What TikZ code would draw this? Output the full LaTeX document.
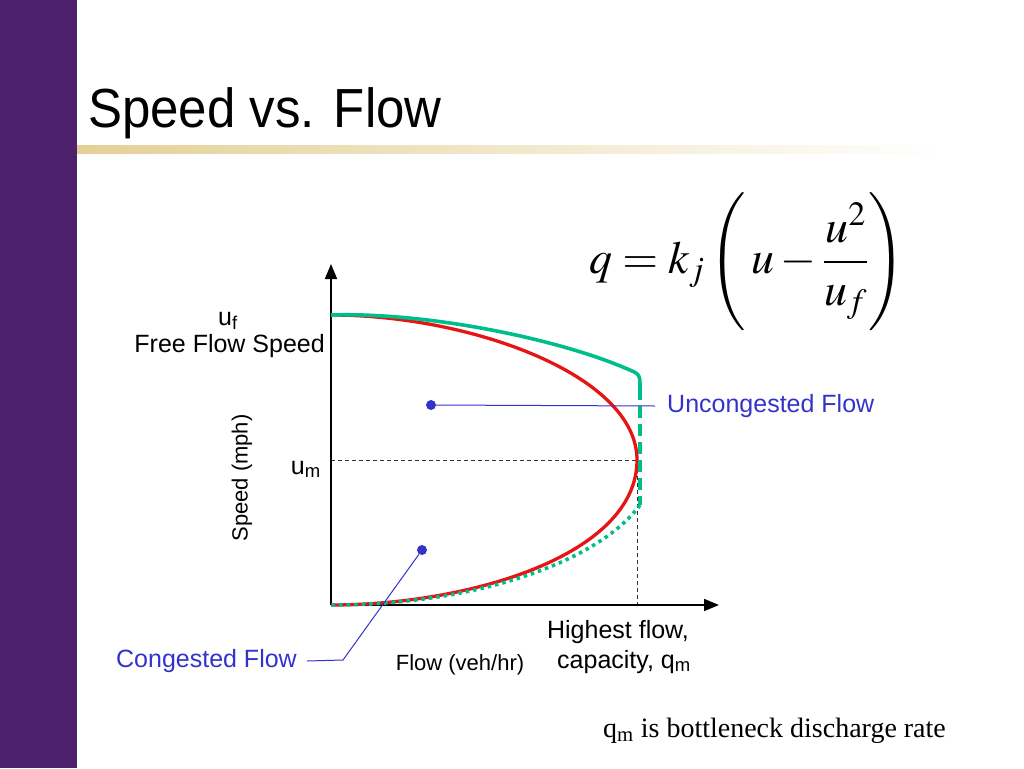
\documentclass[tikz,border=0pt]{standalone}
\usepackage{mathptmx}
\usepackage[no-math]{fontspec}
\setmainfont{Liberation Sans}
\newfontfamily\timesfont{Liberation Serif}
\usepackage{tikz}
\usetikzlibrary{arrows.meta,calc,positioning}
\definecolor{barpurple}{RGB}{79,32,110}
\definecolor{rulegold}{RGB}{228,208,150}
\definecolor{curvered}{RGB}{230,20,20}
\definecolor{curvegreen}{RGB}{0,190,140}
\definecolor{calloutblue}{RGB}{51,51,204}

\begin{document}
\begin{tikzpicture}[x=1pt,y=-1pt,>={Triangle[length=15pt,width=12pt]},
  axis/.style={->,line width=1.8pt},
  guide/.style={draw=black!80,line width=0.9pt,dash pattern=on 4pt off 3pt},
  model/.style={draw=curvered,line width=3.3pt},
  obs/.style={draw=curvegreen,line width=3.6pt},
  callout/.style={draw=calloutblue,line width=1pt},
  dot/.style={circle,fill=calloutblue,inner sep=0pt,minimum size=10pt},
  lbl/.style={font=\fontsize{25}{30}\selectfont,inner sep=0pt},
  small lbl/.style={font=\fontsize{22}{26}\selectfont,inner sep=0pt}]
	\useasboundingbox (0,0) rectangle (1024,768);
	\fill[barpurple] (0,0) rectangle (77,768);
	\shade[left color=rulegold,right color=white] (77,145) rectangle (945,153);
	\node[anchor=base west,inner sep=0pt,font=\fontsize{51}{60}\selectfont] (title) at (88,127) {\scalebox{1}[1.08]{Speed vs. Flow}};

	\coordinate (O) at (331,605);
	\coordinate (ytop) at (331,264);
	\coordinate (xend) at (719,605);
	\coordinate (uf) at (331,315);
	\coordinate (cap) at (637,460);
	\coordinate (kneeA) at (625,368);
	\coordinate (kneeB) at (640,388);
	\coordinate (kneeC) at (640,505);

	\draw[guide] (O |- cap) -- (cap) -- (cap |- O);
	\draw[axis] (O) -- (ytop);
	\draw[axis] (O) -- (xend);

	\draw[model] (uf) .. controls (470,315) and (637,375) .. (cap)
		.. controls (637,555) and (470,605) .. (O);
	\draw[obs] (uf) .. controls (430,312) and (560,340) .. (kneeA)
		.. controls (640,374) .. (kneeB);
	\draw[obs,dash pattern=on 12pt off 6pt] (kneeB) -- (kneeC);
	\draw[obs,dash pattern=on 3.5pt off 4pt] (kneeC) .. controls (600,560) and (480,605) .. (O);

	\node[dot] (free) at (431,405) {};
	\node[lbl,anchor=west,text=calloutblue] (unc) at (667,406) {Uncongested Flow};
	\node[dot] (jam) at (422,550) {};
	\node[lbl,anchor=east,text=calloutblue] (cong) at (297,661) {Congested Flow};
	\coordinate (bend) at (343,660);
	\draw[callout] (free) -- ([xshift=-12pt]unc.west);
	\draw[callout] (jam) -- (bend) -- ([xshift=10pt]cong.east);

	\node[lbl,anchor=base] (uflbl) at (228,325) {u\textsubscript{f}};
	\node[lbl,anchor=base east] (fflbl) at (325,352) {Free Flow Speed};
	\node[lbl,anchor=base east] (umlbl) at (321,474) {u\textsubscript{m}};
	\node[small lbl,rotate=90] (ylbl) at (242,478) {Speed (mph)};
	\node[small lbl,anchor=base] (xlbl) at (460,670) {Flow (veh/hr)};
	\node[lbl,anchor=base] (hilbl) at (618,638) {Highest flow,};
	\node[lbl,anchor=base] (caplbl) at (624,668) {capacity, q\textsubscript{m}};
	\node[anchor=base west,inner sep=0pt,font=\timesfont\fontsize{28}{32}\selectfont] (note) at (603,737) {q\textsubscript{m} is bottleneck discharge rate};

	\node[font=\fontsize{46}{56}\selectfont] (eqn) at (747,262) {$\displaystyle q = k_{j}\left(\, u - \frac{u^{2}}{u_{f}} \right)$};
\end{tikzpicture}
\end{document}
